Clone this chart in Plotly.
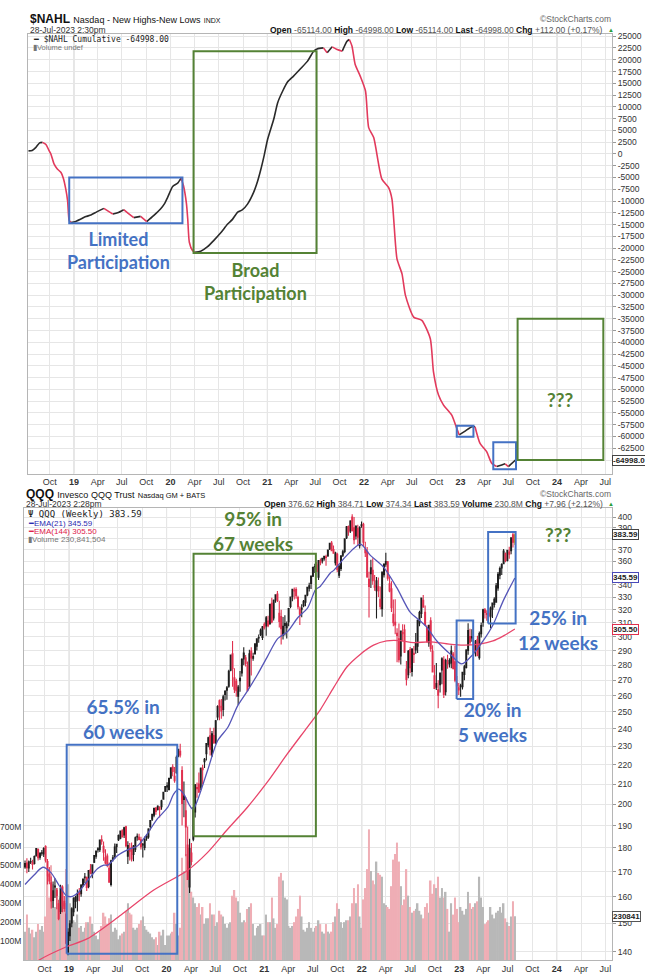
import numpy as np
import pandas as pd
import plotly.graph_objects as go

W, H = 645, 977

# ------------------------------------------------------------------ top panel: $NAHL cumulative
nahl_dates = ['2018-07-13', '2018-07-27', '2018-08-10', '2018-08-24', '2018-09-04', '2018-09-17', '2018-09-28',
              '2018-10-06', '2018-10-18', '2018-10-30', '2018-11-13', '2018-11-22', '2018-12-01', '2018-12-08',
              '2018-12-14', '2018-12-21', '2019-01-05', '2019-01-27', '2019-02-15', '2019-03-06', '2019-03-28',
              '2019-04-24', '2019-05-28', '2019-06-15', '2019-07-08', '2019-07-25', '2019-08-15', '2019-09-10',
              '2019-10-03', '2019-10-29', '2019-11-24', '2019-12-10', '2019-12-21', '2020-01-09', '2020-01-28',
              '2020-02-10', '2020-02-19', '2020-03-01', '2020-03-06', '2020-03-12', '2020-03-24', '2020-04-01',
              '2020-04-24', '2020-05-20', '2020-06-12', '2020-07-08', '2020-08-04', '2020-08-22', '2020-09-10',
              '2020-09-28', '2020-10-18', '2020-11-10', '2020-11-25', '2020-12-06', '2020-12-20', '2021-01-02',
              '2021-01-25', '2021-02-09', '2021-02-28', '2021-03-18', '2021-04-10', '2021-05-07', '2021-06-02',
              '2021-06-25', '2021-07-08', '2021-08-01', '2021-08-15', '2021-09-03', '2021-09-22', '2021-10-11',
              '2021-10-29', '2021-11-07', '2021-11-17', '2021-11-29', '2021-12-18', '2022-01-07', '2022-01-19',
              '2022-02-07', '2022-03-10', '2022-04-04', '2022-04-17', '2022-05-06', '2022-05-25', '2022-06-07',
              '2022-07-08', '2022-08-08', '2022-09-09', '2022-09-21', '2022-10-10', '2022-10-29', '2022-11-29',
              '2022-12-18', '2022-12-27', '2023-01-20', '2023-02-13', '2023-02-25', '2023-03-16', '2023-04-10',
              '2023-04-29', '2023-05-18', '2023-06-06', '2023-06-19', '2023-07-01', '2023-07-28']
nahl_values = [650, 750, 1400, 2350, 2450, 2000, 800,
               -60, -2180, -3200, -3940, -5200, -7470, -10000,
               -14160, -14550, -14400, -13820, -13300, -12970, -12300,
               -11560, -12770, -12500, -11840, -12600, -13530, -13260,
               -14380, -13110, -11700, -10500, -9230, -6900, -6200,
               -5150, -6760, -10500, -13800, -18750, -20520, -20880,
               -20660, -19700, -18400, -16800, -14880, -13900, -12410,
               -11900, -10650, -8170, -5800, -3580, -300, 3110,
               7350, 10880, 13360, 15260, 16530, 18140, 19710,
               21820, 22310, 22520, 21470, 22740, 22170, 21820,
               23940, 24300, 22880, 18990, 16530, 13360, 5590,
               3470, -5360, -7120, -9590, -22290, -25460, -30040,
               -34640, -35330, -39230, -46280, -51210, -53330, -55450,
               -58280, -59650, -58800, -57920, -57920, -61460, -63220,
               -65690, -66390, -66030, -65800, -66390, -64998]

# ------------------------------------------------------------------ bottom panel: QQQ weekly
qqq_open = [171.9, 173.6, 171.5, 174.0, 173.8, 173.4, 176.6, 179.4, 176.0, 177.9, 177.4, 180.6, 174.2, 169.0, 165.5, 158.6, 163.8, 162.5, 157.3, 154.4, 163.8, 158.2, 153.4, 140.0,
            145.6, 150.2, 154.3, 158.2, 158.7, 161.5, 161.2, 164.6, 167.5, 167.6, 164.0, 170.7, 169.1, 173.9, 176.5, 179.2, 179.3, 183.6, 180.7, 173.6, 176.5, 171.4, 164.8, 175.2, 176.2, 180.5, 183.6, 184.3, 187.6, 185.8, 189.4, 176.5, 178.6, 180.2, 177.2, 179.5, 184.8, 184.7, 183.6, 181.3, 180.2, 184.3, 184.8, 189.6, 193.0, 194.8, 198.4, 197.5, 197.6, 198.9, 202.5, 206.4,
            208.6, 207.3, 213.1, 218.9, 211.8, 215.9, 224.8, 227.4, 217.0, 202.4, 196.9, 181.3, 163.8, 174.2, 183.8, 196.4, 207.7, 210.0, 208.5, 218.3, 221.7, 226.1, 231.0, 236.0, 225.3, 236.2, 232.2, 247.0, 256.9, 253.4, 251.5, 260.9, 263.5, 266.0, 276.5, 287.8, 271.6, 269.2, 259.8, 269.7, 274.7, 288.3, 284.9, 279.7, 265.9, 289.6, 284.7, 287.6, 293.0, 299.0, 301.5, 299.4,
            309.0, 307.8, 311.5, 309.6, 325.1, 313.8, 328.0, 332.4, 317.4, 314.9, 301.0, 309.6, 306.4, 311.0, 322.6, 330.5, 335.7, 336.0, 329.6, 316.6, 320.4, 323.2, 325.9, 331.7, 337.1, 341.0, 347.0, 355.3, 356.8, 346.3, 359.9, 360.0, 362.0, 363.8, 364.4, 370.6, 376.0, 370.2, 358.5, 365.9, 348.0, 353.6, 365.2, 368.5, 380.8, 391.2, 387.2, 400.5, 390.2, 382.5, 389.5, 373.6, 392.3,
            393.5, 367.4, 368.3, 338.5, 349.1, 352.0, 339.2, 335.2, 338.4, 328.2, 320.9, 348.4, 357.2, 359.4, 340.8, 336.6, 316.5, 310.4, 300.7, 298.4, 286.2, 302.0, 305.0, 277.2, 273.5, 290.7, 275.7, 288.0, 290.5, 293.0, 310.0, 317.2, 327.5, 318.0, 306.5, 295.6, 311.6, 289.5, 272.9, 267.8, 263.8, 267.0, 276.7, 283.5, 262.6, 281.4, 280.8, 281.4, 287.6, 282.2, 268.1, 265.0,
            266.3, 265.8, 273.7, 278.4, 290.0, 300.0, 298.9, 294.5, 290.3, 297.8, 285.1, 302.1, 310.6, 320.0, 316.5, 317.4, 315.1, 320.4, 324.2, 326.0, 337.4, 347.9, 354.0, 357.8, 366.4, 360.5, 368.0, 369.2, 383.5, 376.62]
qqq_high = [174.6, 175.6, 174.6, 175.8, 174.9, 176.7, 180.0, 179.8, 178.1, 179.1, 180.3, 181.2, 175.3, 171.9, 168.0, 166.0, 167.3, 163.4, 158.8, 164.7, 164.5, 160.3, 157.6, 148.3,
            151.2, 156.0, 159.8, 160.4, 162.8, 163.4, 164.9, 167.1, 169.4, 168.0, 170.7, 173.2, 173.0, 176.9, 178.8, 180.3, 183.6, 185.6, 182.8, 179.4, 177.6, 173.8, 175.0, 177.0, 181.9, 181.8, 185.9, 187.8, 188.3, 189.5, 189.9, 182.9, 182.2, 182.4, 181.3, 185.1, 186.4, 186.3, 184.9, 182.2, 185.0, 186.2, 188.8, 192.5, 195.4, 198.3, 198.6, 199.6, 199.1, 202.2, 206.1, 209.0,
            211.0, 213.3, 218.6, 220.3, 218.9, 225.0, 228.6, 231.6, 219.3, 211.3, 203.6, 189.6, 184.0, 182.2, 198.9, 210.1, 210.8, 216.0, 218.6, 220.1, 223.7, 231.9, 235.5, 240.7, 238.8, 240.7, 245.2, 254.1, 257.6, 258.0, 260.7, 263.6, 266.2, 276.8, 287.2, 296.8, 277.8, 270.9, 266.9, 276.0, 284.6, 292.4, 286.9, 282.5, 290.5, 292.4, 288.5, 294.8, 298.6, 301.5, 305.8, 307.7,
            310.6, 315.2, 315.5, 324.8, 329.5, 328.0, 332.0, 334.9, 327.0, 320.0, 314.5, 315.8, 311.0, 321.4, 330.3, 336.7, 337.8, 338.0, 331.0, 322.5, 324.4, 327.6, 331.7, 338.4, 341.6, 347.2, 354.7, 357.6, 359.2, 360.7, 362.2, 362.8, 364.2, 365.6, 370.3, 376.1, 377.9, 373.7, 368.2, 367.4, 357.0, 364.8, 370.0, 380.1, 391.9, 392.3, 397.3, 403.0, 400.5, 392.5, 393.0, 391.5, 396.2,
            395.0, 377.3, 372.4, 350.8, 361.1, 362.5, 348.1, 346.3, 346.0, 338.6, 350.8, 358.0, 367.3, 360.0, 347.0, 342.9, 328.0, 328.2, 306.0, 309.5, 304.2, 309.0, 308.8, 282.8, 290.4, 292.5, 291.8, 293.2, 302.5, 312.6, 319.3, 329.4, 331.6, 323.4, 308.3, 308.6, 314.3, 293.7, 280.0, 281.4, 270.0, 274.7, 285.4, 286.0, 284.3, 287.0, 284.6, 293.5, 289.0, 293.3, 272.7, 268.1,
            267.6, 275.4, 280.3, 291.0, 309.7, 305.7, 305.3, 296.0, 297.5, 300.5, 303.7, 310.3, 320.8, 321.5, 319.7, 320.3, 322.5, 324.5, 329.8, 341.4, 350.6, 355.4, 358.0, 370.6, 367.6, 370.0, 372.6, 381.2, 387.0, 384.71]
qqq_low = [171.2, 169.3, 169.8, 173.2, 170.9, 173.0, 176.3, 174.6, 175.0, 176.6, 176.1, 173.8, 164.8, 164.9, 155.5, 155.8, 159.5, 155.2, 151.2, 153.5, 154.1, 154.3, 142.6, 138.9,
           143.8, 148.6, 152.6, 155.6, 154.4, 158.3, 160.0, 163.8, 165.4, 162.2, 163.3, 168.9, 167.3, 173.6, 175.4, 178.0, 178.3, 181.4, 174.5, 172.9, 171.8, 165.8, 164.0, 174.2, 175.5, 177.8, 183.1, 183.8, 184.8, 184.4, 180.3, 173.2, 174.6, 174.2, 174.3, 178.2, 183.2, 183.4, 179.3, 175.9, 179.0, 183.2, 184.0, 187.9, 192.1, 193.9, 195.0, 197.0, 193.8, 197.4, 202.2, 206.0,
           206.0, 206.8, 212.8, 214.1, 210.7, 215.4, 224.1, 224.0, 190.0, 193.9, 176.4, 166.8, 161.4, 172.5, 182.9, 193.8, 203.2, 205.6, 206.9, 209.8, 218.3, 222.4, 229.6, 225.1, 224.3, 231.6, 231.3, 245.0, 245.0, 245.9, 247.5, 257.0, 257.5, 265.1, 275.8, 265.7, 261.7, 259.3, 254.2, 262.6, 272.4, 279.9, 279.0, 263.3, 265.6, 273.0, 283.0, 287.2, 290.1, 295.6, 300.3, 297.5,
           305.2, 300.5, 306.8, 308.5, 309.7, 311.8, 325.6, 326.0, 306.6, 294.3, 297.8, 300.7, 298.6, 307.6, 321.2, 326.6, 328.0, 328.7, 320.5, 308.4, 314.3, 321.9, 322.8, 330.7, 334.5, 336.5, 346.5, 349.7, 350.8, 343.9, 356.3, 357.9, 360.2, 356.0, 363.7, 369.8, 368.9, 366.4, 356.2, 350.3, 345.6, 351.4, 363.5, 366.9, 379.6, 382.6, 385.3, 386.7, 375.0, 379.2, 373.5, 371.0, 390.2,
           373.2, 363.5, 345.7, 314.2, 337.4, 340.0, 335.0, 313.4, 330.0, 320.5, 314.7, 346.0, 355.0, 343.2, 333.8, 318.3, 307.5, 301.6, 281.9, 281.7, 280.4, 296.5, 288.3, 266.5, 271.2, 274.7, 272.4, 281.4, 287.8, 288.3, 307.5, 313.8, 321.6, 308.3, 295.6, 292.7, 289.1, 275.0, 264.6, 263.7, 252.3, 262.1, 267.3, 258.6, 260.1, 277.5, 278.3, 277.9, 277.1, 268.7, 260.0, 260.4,
           259.3, 263.9, 270.0, 277.7, 287.1, 294.0, 296.3, 286.5, 285.9, 286.0, 283.6, 299.3, 307.2, 313.3, 311.6, 313.6, 306.1, 313.8, 321.7, 325.5, 335.0, 344.6, 348.0, 357.6, 358.9, 359.7, 362.0, 366.0, 372.0, 374.34]
qqq_close = [173.4, 171.6, 174.0, 174.2, 173.0, 176.3, 179.7, 175.8, 177.7, 177.7, 179.7, 174.8, 168.1, 166.2, 158.4, 162.3, 164.2, 160.4, 151.7, 163.3, 156.5, 155.5, 143.0, 146.8,
             149.9, 155.4, 159.5, 159.7, 161.2, 161.0, 164.6, 167.0, 167.8, 163.6, 170.4, 169.5, 172.8, 176.7, 178.7, 179.6, 183.5, 183.0, 178.2, 175.8, 172.8, 165.7, 174.5, 175.8, 180.4, 181.6, 185.5, 187.5, 184.9, 189.0, 181.0, 181.0, 179.6, 175.3, 180.8, 184.5, 185.1, 183.7, 180.5, 181.6, 183.7, 185.0, 188.4, 192.3, 195.2, 198.1, 196.6, 199.1, 198.6, 201.7, 205.9, 208.8,
             209.2, 213.0, 218.4, 216.6, 214.0, 224.1, 228.4, 225.4, 200.4, 204.0, 189.4, 166.8, 179.8, 177.8, 198.3, 209.7, 208.3, 206.1, 218.2, 217.5, 223.0, 231.7, 234.9, 228.5, 237.1, 232.0, 244.8, 253.3, 252.9, 250.6, 259.3, 262.6, 265.0, 275.9, 286.8, 277.7, 264.2, 263.2, 265.6, 271.2, 284.0, 284.2, 280.9, 263.2, 287.7, 284.9, 285.9, 294.7, 298.3, 299.3, 304.5, 307.2,
             306.5, 313.9, 308.0, 324.3, 310.8, 327.4, 331.8, 327.3, 311.1, 305.8, 307.5, 308.1, 309.4, 320.9, 330.1, 336.3, 335.0, 331.1, 322.5, 320.4, 321.3, 326.7, 331.5, 337.9, 339.2, 347.2, 354.6, 355.2, 351.0, 360.4, 358.8, 362.5, 364.1, 363.1, 369.8, 375.8, 369.2, 366.8, 367.1, 352.7, 355.4, 364.5, 368.2, 379.9, 391.1, 386.5, 396.6, 387.7, 379.1, 391.6, 381.3, 390.6, 393.0,
             376.8, 370.3, 346.5, 344.5, 354.2, 343.4, 337.9, 343.3, 335.1, 322.7, 350.5, 357.2, 359.5, 345.4, 335.0, 321.7, 310.1, 308.5, 302.3, 283.6, 304.0, 302.9, 288.9, 270.5, 289.5, 278.2, 290.8, 287.3, 294.9, 311.9, 317.8, 329.3, 322.1, 308.5, 296.5, 308.3, 291.3, 275.4, 264.6, 265.4, 260.3, 274.7, 284.3, 260.9, 283.0, 281.5, 283.0, 289.7, 277.8, 269.9, 266.2, 263.6,
             265.8, 275.1, 278.9, 290.4, 304.3, 295.9, 300.0, 289.2, 296.8, 286.4, 302.2, 308.0, 320.0, 318.0, 317.1, 315.4, 321.3, 325.3, 328.3, 339.2, 348.6, 353.5, 357.0, 368.8, 360.6, 369.4, 366.1, 380.8, 376.7, 383.59]
qqq_volume_m = [150, 240, 170, 140, 160, 120, 150, 190, 160, 180, 150, 230, 440, 330, 500, 400, 280, 380, 300, 330, 390, 300, 480, 400,
                300, 240, 210, 200, 240, 170, 180, 150, 170, 200, 200, 230, 190, 150, 130, 110, 150, 180, 250, 230, 190, 220, 240, 150, 170, 160, 110, 130, 140, 150, 260, 300, 250, 240, 170, 160, 170, 190, 210, 230, 180, 160, 150, 140, 120, 110, 120, 80, 150, 130, 160, 80,
                130, 130, 140, 150, 250, 190, 130, 170, 540, 470, 560, 520, 490, 360, 330, 300, 280, 300, 240, 280, 190, 220, 220, 300, 240, 240, 180, 200, 260, 240, 230, 190, 170, 190, 200, 340, 370, 330, 310, 250, 200, 210, 200, 270, 280, 300, 190, 130, 170, 180, 190, 130,
                130, 240, 200, 200, 330, 220, 170, 190, 440, 460, 420, 330, 320, 180, 170, 180, 200, 230, 270, 340, 230, 160, 150, 170, 200, 170, 150, 170, 180, 210, 190, 150, 140, 190, 150, 140, 150, 200, 230, 300, 270, 200, 170, 200, 210, 210, 230, 300, 380, 300, 400, 230, 170,
                320, 380, 480, 690, 470, 420, 400, 520, 460, 450, 440, 300, 290, 280, 270, 390, 530, 560, 620, 520, 390, 290, 320, 480, 340, 280, 250, 260, 270, 300, 260, 240, 220, 280, 300, 250, 420, 350, 400, 380, 440, 330, 380, 330, 360, 270, 150, 300, 240, 330, 270, 200,
                280, 260, 240, 270, 360, 300, 270, 280, 300, 310, 440, 330, 280, 190, 200, 210, 280, 240, 220, 250, 260, 280, 250, 300, 220, 200, 180, 230, 310, 230.84]

ema21_dates = ['2018-07-20', '2018-08-22', '2018-09-25', '2018-10-25', '2018-11-24', '2018-12-20', '2019-01-08',
               '2019-02-03', '2019-03-12', '2019-04-18', '2019-05-11', '2019-05-26', '2019-07-02', '2019-08-08',
               '2019-09-15', '2019-10-22', '2019-11-28', '2020-01-05', '2020-01-27', '2020-02-15', '2020-03-06',
               '2020-03-25', '2020-04-09', '2020-04-27', '2020-06-03', '2020-07-10', '2020-08-17', '2020-09-23',
               '2020-10-30', '2020-12-07', '2021-01-13', '2021-02-20', '2021-03-29', '2021-05-06', '2021-06-12',
               '2021-07-12', '2021-07-30', '2021-09-06', '2021-09-18', '2021-11-06', '2021-12-27', '2022-02-02',
               '2022-03-24', '2022-05-12', '2022-07-01', '2022-08-08', '2022-09-02', '2022-10-09', '2022-11-28',
               '2023-01-10', '2023-02-22', '2023-03-31', '2023-05-08', '2023-06-14', '2023-07-28']
ema21_values = [164.8, 168.5, 171.8, 169.6, 164.5, 160.6, 160.0,
                161.5, 166.5, 171.3, 172.7, 172.7, 176.8, 179.2,
                181.0, 186.5, 193.2, 198.5, 204.9, 207.5, 204.9,
                200.0, 197.6, 202.4, 217.3, 233.2, 240.8, 253.7,
                263.1, 273.9, 286.0, 298.5, 303.6, 313.9, 321.4,
                336.0, 338.8, 350.0, 352.0, 365.0, 375.0, 365.0,
                354.5, 337.6, 318.2, 311.4, 306.7, 296.8, 287.5,
                280.8, 287.5, 296.8, 308.9, 326.8, 345.59]

ema144_dates = ['2018-07-20', '2018-09-11', '2018-12-20', '2019-03-11', '2019-07-13', '2019-11-14', '2020-03-19',
                '2020-06-02', '2020-08-15', '2020-10-29', '2021-01-12', '2021-03-28', '2021-06-10', '2021-07-30',
                '2021-09-18', '2021-11-06', '2021-12-27', '2022-02-14', '2022-04-04', '2022-05-24', '2022-07-13',
                '2022-09-13', '2022-11-14', '2023-01-16', '2023-03-18', '2023-05-07', '2023-06-14', '2023-07-28']
ema144_values = [133.5, 137.3, 141.7, 144.6, 153.0, 162.6, 170.5,
                 178.0, 188.1, 198.5, 211.0, 225.9, 240.8, 251.5,
                 265.3, 278.7, 287.5, 293.8, 296.8, 297.0, 295.6,
                 296.2, 294.8, 293.8, 294.6, 296.8, 300.3, 305.5]

month_labels = ['Oct', '19', 'Apr', 'Jul', 'Oct', '20', 'Apr', 'Jul', 'Oct', '21', 'Apr', 'Jul',
                'Oct', '22', 'Apr', 'Jul', 'Oct', '23', 'Apr', 'Jul', 'Oct', '24', 'Apr', 'Jul']

# annotation boxes (date range, value range)
top_boxes = [  # x0, x1, y0, y1, color
    ('2018-12-14', '2020-02-15', -14730, -5000, 'blue'),
    ('2020-03-28', '2021-07-06', -21020, 21825, 'green'),
    ('2022-12-18', '2023-02-19', -60040, -57710, 'blue'),
    ('2023-05-05', '2023-07-30', -66960, -61250, 'blue'),
    ('2023-08-05', '2024-06-24', -64970, -35000, 'green'),
]
bottom_boxes = [
    ('2018-12-23', '2020-02-10', 139.4, 231.0, 'blue'),
    ('2020-04-11', '2021-07-13', 185.2, 366.5, 'green'),
    ('2022-12-22', '2023-02-22', 257.9, 311.9, 'blue'),
    ('2023-04-19', '2023-07-31', 309.5, 386.1, 'blue'),
]

# ------------------------------------------------------------------ styling
BLUE = '#4472C4'
GREEN = '#548235'
BOX_COL = {'blue': BLUE, 'green': GREEN}
UP_COL = '#1e1e1e'
DN_COL = '#e0304e'
FONT = 'Liberation Sans'
ANN_FONT = 'Lato'


def P(x, y):
    return x / W, 1 - y / H


fig = go.Figure()

# ---- top line split into rising (black) / falling (red) runs
nd = pd.to_datetime(nahl_dates)
runs = {True: ([], []), False: ([], [])}
for i in range(len(nahl_values) - 1):
    up = nahl_values[i + 1] >= nahl_values[i]
    xs, ys = runs[up]
    if xs and xs[-1] == nd[i]:
        xs.append(nd[i + 1]); ys.append(nahl_values[i + 1])
    else:
        if xs:
            xs.append(None); ys.append(None)
        xs += [nd[i], nd[i + 1]]; ys += [nahl_values[i], nahl_values[i + 1]]
for up, col in ((True, '#2a2a2a'), (False, '#e23a5c')):
    xs, ys = runs[up]
    fig.add_trace(go.Scatter(x=xs, y=ys, mode='lines', connectgaps=False,
                             line=dict(color=col, width=1.6, shape='spline', smoothing=0.6),
                             xaxis='x', yaxis='y', hoverinfo='skip'))

# ---- QQQ
n = min(len(qqq_open), len(qqq_high), len(qqq_low), len(qqq_close), len(qqq_volume_m))
dates = pd.date_range(end='2023-07-28', periods=n, freq='W-FRI')
o, h, l, c, v = (np.array(a[:n]) for a in (qqq_open, qqq_high, qqq_low, qqq_close, qqq_volume_m))
prev = np.concatenate([[c[0]], c[:-1]])
up_mask = c >= prev

vol_colors = np.where(up_mask, '#b8b8b8', '#efaeb5')
fig.add_trace(go.Bar(x=dates, y=v, marker=dict(color=list(vol_colors), line=dict(width=0)),
                     xaxis='x2', yaxis='y2', hoverinfo='skip'))

fig.add_trace(go.Scatter(x=pd.to_datetime(ema144_dates), y=ema144_values, mode='lines',
                         line=dict(color='#e8456a', width=1.3, shape='spline', smoothing=0.8),
                         xaxis='x2', yaxis='y3', hoverinfo='skip'))
fig.add_trace(go.Scatter(x=pd.to_datetime(ema21_dates), y=ema21_values, mode='lines',
                         line=dict(color='#5656b8', width=1.3, shape='spline', smoothing=0.8),
                         xaxis='x2', yaxis='y3', hoverinfo='skip'))

idx_all = np.arange(n)
for mask, col in ((up_mask & (idx_all < n - 1), UP_COL), (~up_mask & (idx_all < n - 1), DN_COL)):
    fig.add_trace(go.Candlestick(x=dates[mask], open=o[mask], high=h[mask], low=l[mask], close=c[mask],
                                 increasing=dict(line=dict(color=col, width=1.1), fillcolor='white'),
                                 decreasing=dict(line=dict(color=col, width=1.1), fillcolor=col),
                                 whiskerwidth=0, xaxis='x2', yaxis='y3', hoverinfo='skip'))
last = idx_all == n - 1
fig.add_trace(go.Candlestick(x=dates[last], open=o[last], high=h[last], low=l[last], close=c[last],
                             increasing=dict(line=dict(color='#c89a00', width=1), fillcolor='#f5c518'),
                             decreasing=dict(line=dict(color='#c89a00', width=1), fillcolor='#f5c518'),
                             whiskerwidth=0, xaxis='x2', yaxis='y3', hoverinfo='skip'))

# ---- commentary boxes on the price panel (closed outlines in data space)
for x0, x1, y0, y1, col in bottom_boxes:
    fig.add_trace(go.Scatter(x=[x0, x1, x1, x0, x0], y=[y0, y0, y1, y1, y0], mode='lines',
                             line=dict(color=BOX_COL[col], width=2), xaxis='x2', yaxis='y3',
                             hoverinfo='skip'))

# ------------------------------------------------------------------ axes
qticks = pd.date_range('2018-10-01', '2024-07-01', freq='QS-JAN')
qtext = [f'<b>{t}</b>' if t.isdigit() else t for t in month_labels]
tickfont = dict(family=FONT, size=9, color='#333')
grid = '#e6e6e6'
frame = '#b5b5b5'

top_ticks = list(range(-65000, 25001, 2500))
top_text = ['' if t == -65000 else str(t) for t in top_ticks]
price_ticks = list(range(140, 401, 10))
price_text = ['' if t in (380, 350) else str(t) for t in price_ticks]

xcommon = dict(type='date', tickvals=qticks, ticktext=qtext, showgrid=True, gridcolor=grid,
               showline=True, linecolor=frame, mirror=True, ticks='', tickfont=tickfont, zeroline=False)

fig.update_layout(
    width=W, height=H, margin=dict(l=0, r=0, t=0, b=0),
    paper_bgcolor='white', plot_bgcolor='white', showlegend=False, hovermode=False,
    bargap=0.15,
    xaxis=dict(domain=[27 / W, 612 / W], anchor='y', range=['2018-07-11', '2024-07-27'], **xcommon),
    yaxis=dict(domain=[1 - 472 / H, 1 - 31 / H], anchor='x', side='right', range=[-67870, 25490],
               tickvals=top_ticks, ticktext=top_text, showgrid=True, gridcolor=grid,
               showline=True, linecolor=frame, mirror=True, ticks='outside', ticklen=3, tickcolor='#999',
               tickfont=dict(family=FONT, size=8.5, color='#333'), zeroline=False),
    xaxis2=dict(domain=[23 / W, 612 / W], anchor='y2', range=['2018-07-16', '2024-07-26'],
                rangeslider=dict(visible=False), **xcommon),
    yaxis2=dict(domain=[1 - 960 / H, 1 - 507 / H], anchor='x2', side='left', range=[0, 2384],
                tickvals=[100, 200, 300, 400, 500, 600, 700],
                ticktext=['100M', '200M', '300M', '400M', '500M', '600M', '700M'],
                showgrid=False, showline=True, linecolor=frame, mirror=True, ticks='',
                tickfont=dict(family=FONT, size=8.5, color='#333'), zeroline=False),
    yaxis3=dict(overlaying='y2', anchor='x2', side='right', type='log',
                range=[np.log10(137.3), np.log10(408.8)], tickvals=price_ticks,
                ticktext=price_text, showgrid=True, gridcolor=grid,
                showline=False, ticks='outside', ticklen=3, tickcolor='#999',
                tickfont=dict(family=FONT, size=8.5, color='#333'), zeroline=False),
)

# ------------------------------------------------------------------ shapes
shapes = []
for yr in range(2019, 2025):
    for xr, yr_ref in (('x', 'y domain'), ('x2', 'y2 domain')):
        shapes.append(dict(type='line', xref=xr, yref=yr_ref, x0=f'{yr}-01-01', x1=f'{yr}-01-01', y0=0, y1=1,
                           line=dict(color='#cdcdcd', width=1), layer='below'))
for x0, x1, y0, y1, col in top_boxes:
    shapes.append(dict(type='rect', xref='x', yref='y', x0=x0, x1=x1, y0=y0, y1=y1,
                       line=dict(color=BOX_COL[col], width=2), fillcolor='rgba(0,0,0,0)'))
fig.update_layout(shapes=shapes)

# ------------------------------------------------------------------ annotations
ann = []


def text(px, py, s, size=9, color='#222', family=FONT, xanchor='left', yanchor='middle', bold=False):
    x, y = P(px, py)
    ann.append(dict(x=x, y=y, xref='paper', yref='paper', text=(f'<b>{s}</b>' if bold else s),
                    showarrow=False, xanchor=xanchor, yanchor=yanchor, align='center',
                    font=dict(family=family, size=size, color=color)))


GV = "<span style='color:#555'>"
# top header
text(27, 16, "<b>$NAHL</b> <span style='font-size:9px'>Nasdaq - New Highs-New Lows</span> "
             "<span style='font-size:7px'>INDX</span>", size=12, color='#111')
text(613, 16, '©StockCharts.com', size=8.5, color='#666', xanchor='right')
text(27, 27, '28-Jul-2023 2:30pm', size=8.5, color='#333')
text(605, 27, f"<b>Open</b> {GV}-65114.00</span> <b>High</b> {GV}-64998.00</span> <b>Low</b> {GV}-65114.00</span> "
              f"<b>Last</b> {GV}-64998.00</span> <b>Chg</b> {GV}+112.00 (+0.17%)</span>",
     size=8.5, color='#111', xanchor='right')
text(606, 27, "▲", size=6, color='#2a9d3a')
text(30, 37, '━ $NAHL Cumulative -64998.00', size=8, color='#222', family='DejaVu Sans Mono')
text(30, 45, '▮Volume undef', size=7.5, color='#777')

# bottom header
text(23, 493, "<b>QQQ</b> <span style='font-size:9px'>Invesco QQQ Trust</span> "
              "<span style='font-size:7.5px'>Nasdaq GM + BATS</span>", size=12, color='#111')
text(613, 493, '©StockCharts.com', size=8.5, color='#666', xanchor='right')
text(23, 503, '28-Jul-2023 2:28pm', size=8.5, color='#333')
text(605, 503, f"<b>Open</b> {GV}376.62</span> <b>High</b> {GV}384.71</span> <b>Low</b> {GV}374.34</span> "
               f"<b>Last</b> {GV}383.59</span> <b>Volume</b> {GV}230.8M</span> <b>Chg</b> {GV}+7.96 (+2.12%)</span>",
     size=8.5, color='#111', xanchor='right')
text(606, 503, "▲", size=6, color='#2a9d3a')
text(25, 513, 'Ψ QQQ (Weekly) 383.59', size=9, color='#222', family='DejaVu Sans Mono')
text(25, 522, '━EMA(21) 345.59', size=8, color='#2b2bb0')
text(25, 530, '━EMA(144) 305.50', size=8, color='#e0204a')
text(25, 538, '▮Volume 230,841,504', size=8, color='#777')

# commentary
text(118, 248, 'Limited<br>Participation', size=18, color=BLUE, family=ANN_FONT, xanchor='center', bold=True)
text(255, 279, 'Broad<br>Participation', size=18, color=GREEN, family=ANN_FONT, xanchor='center', bold=True)
text(560, 398, '???', size=19, color=GREEN, family=ANN_FONT, xanchor='center', bold=True)
text(252, 530, '95% in<br>67 weeks', size=19, color=GREEN, family=ANN_FONT, xanchor='center', bold=True)
text(122, 718, '65.5% in<br>60 weeks', size=19, color=BLUE, family=ANN_FONT, xanchor='center', bold=True)
text(558, 629, '25% in<br>12 weeks', size=19, color=BLUE, family=ANN_FONT, xanchor='center', bold=True)
text(492, 721, '20% in<br>5 weeks', size=19, color=BLUE, family=ANN_FONT, xanchor='center', bold=True)
text(558, 533, '???', size=19, color=GREEN, family=ANN_FONT, xanchor='center', bold=True)


def tag(yref, yval, label, border):
    ann.append(dict(x=612 / W, xref='paper', y=yval, yref=yref, text=f'<b>{label}</b>', showarrow=False,
                    xanchor='left', yanchor='middle', bgcolor='white', bordercolor=border, borderwidth=1,
                    borderpad=0, font=dict(family=FONT, size=8, color='#222')))


tag('y', -64998, '-64998.0', '#444')
tag('y3', np.log10(383.59), '383.59', '#444')
tag('y3', np.log10(345.59), '345.59', '#4a4ab8')
tag('y3', np.log10(305.50), '305.50', '#e0304e')
tag('y2', 230.84, '230841', '#555')

fig.update_layout(annotations=ann)

fig.write_html('out.html', config={'displayModeBar': False},
               post_script="document.body.style.margin='0';document.body.style.padding='0';"
                           "document.documentElement.style.margin='0';")
